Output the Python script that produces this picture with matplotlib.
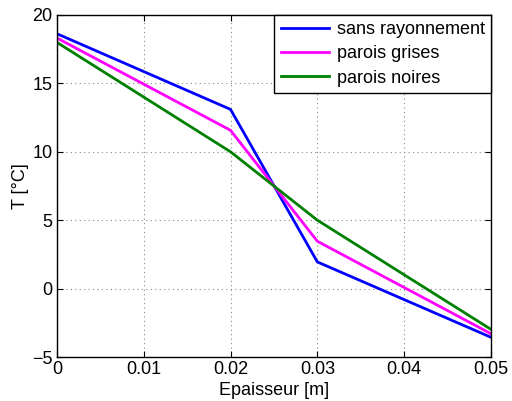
import matplotlib
matplotlib.use("Agg")
import matplotlib.pyplot as plt

plt.rcParams['font.family'] = ['Liberation Sans', 'DejaVu Sans']

# données
x = [0, 0.02, 0.03, 0.05]
T_sans = [18.63, 13.1, 1.95, -3.56]
T_grises = [18.32, 11.57, 3.46, -3.3]
T_noires = [18.0, 10.0, 5.0, -2.98]
labels = ["sans rayonnement", "parois grises", "parois noires"]

fig = plt.figure(figsize=(5.12, 4.01), dpi=100)
ax = fig.add_axes([0.111, 0.1097, 0.848, 0.853])

ax.plot(x, T_sans, color="#0000ff", linewidth=2, label=labels[0])
ax.plot(x, T_grises, color="#ff00ff", linewidth=2, label=labels[1])
ax.plot(x, T_noires, color="#008000", linewidth=2, label=labels[2])

ax.set_xlim(0, 0.05)
ax.set_ylim(-5, 20)
ax.set_xticks([0, 0.01, 0.02, 0.03, 0.04, 0.05])
ax.set_xticklabels(["0", "0.01", "0.02", "0.03", "0.04", "0.05"])
ax.set_yticks([-5, 0, 5, 10, 15, 20])
ax.set_yticklabels(["\u22125", "0", "5", "10", "15", "20"])
ax.tick_params(direction="in", labelsize=13, length=4, top=True, right=True,
               labeltop=False, labelright=False, pad=3)
ax.grid(True, linestyle=(0, (1, 3)), color="#888888", linewidth=0.8)
ax.set_xlabel("Epaisseur [m]", fontsize=13, labelpad=3)
ax.set_ylabel("T [°C]", fontsize=13, labelpad=2)
for s in ax.spines.values():
    s.set_linewidth(1.0)

leg = ax.legend(loc="upper right", fontsize=13, fancybox=False, framealpha=1,
                edgecolor="black", borderaxespad=0, handlelength=2.7,
                labelspacing=0.4, borderpad=0.35, handletextpad=0.4)
leg.get_frame().set_linewidth(1.0)

fig.savefig("out.png", dpi=100)
